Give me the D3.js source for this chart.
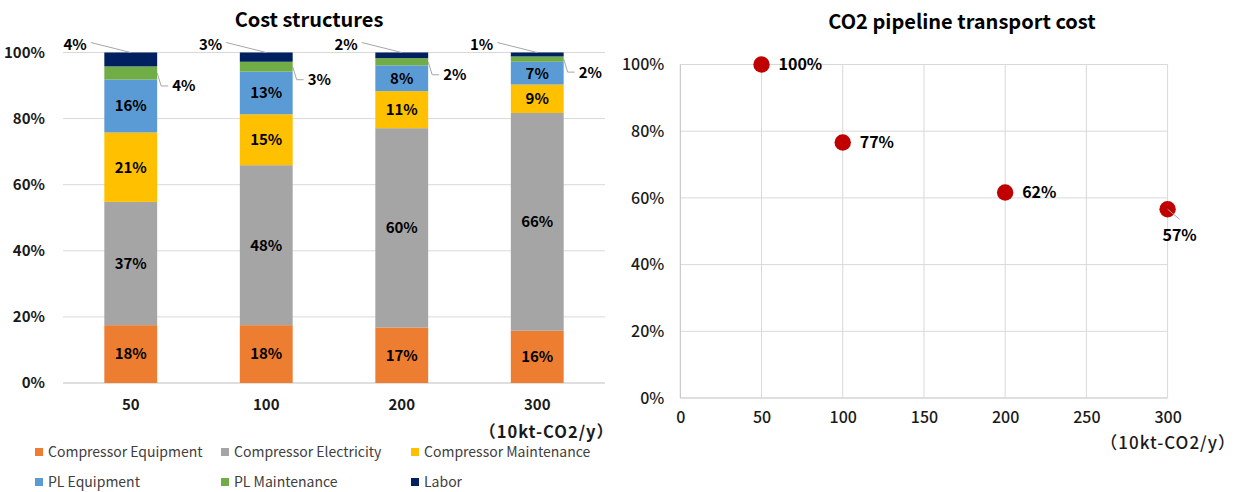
<!DOCTYPE html>
<html>
<head>
<meta charset="utf-8">
<script src="https://cdn.jsdelivr.net/npm/d3@7"></script>
<style>
  html, body { margin: 0; padding: 0; background: #ffffff; }
  svg { display: block; font-family: "Noto Sans CJK JP", "Noto Sans", sans-serif; }
</style>
</head>
<body>
<svg id="chart" width="1240" height="492"></svg>
<script>
// ---- Cost structure data (share of total cost, %) ----
const categories = ["50", "100", "200", "300"];
const seriesNames = ["Compressor Equipment", "Compressor Electricity", "Compressor Maintenance",
                     "PL Equipment", "PL Maintenance", "Labor"];
const seriesColors = ["#ED7D31", "#A5A5A5", "#FFC000", "#5B9BD5", "#70AD47", "#002060"];
const compressorEquipment   = [17.5, 17.5, 16.8, 15.8];
const compressorElectricity = [37.3, 48.4, 60.3, 65.9];
const compressorMaintenance = [21.0, 15.4, 11.2, 8.6];
const plEquipment           = [16.0, 12.9, 7.8, 6.9];
const plMaintenance         = [4.0, 3.0, 2.2, 1.6];
const labor                 = [4.2, 2.8, 1.7, 1.2];
const percentTicks = [0, 20, 40, 60, 80, 100];

// ---- Pipeline transport cost data (relative to 50 = 100%) ----
const capacity = [50, 100, 200, 300];
const relativeCost = [100, 76.6, 61.6, 56.6];
const capacityTicks = [0, 50, 100, 150, 200, 250, 300];

const unitLabel = "（10kt-CO2/y）";

const svg = d3.select("#chart");
const pct = v => Math.round(v) + "%";
const gridColor = "#d9d9d9";
const leader = "#a6a6a6";

// ================= Left: stacked bars =================
const seriesArrays = [compressorEquipment, compressorElectricity, compressorMaintenance,
                      plEquipment, plMaintenance, labor];
const rows = categories.map((c, i) => {
  const r = { category: c };
  seriesNames.forEach((s, k) => { r[s] = seriesArrays[k][i]; });
  return r;
});
const stacked = d3.stack().keys(seriesNames)(rows);

const xL = d3.scaleBand().domain(categories).range([63, 605]).paddingInner(0.61).paddingOuter(0.305);
const yL = d3.scaleLinear().domain([0, 100]).range([383, 52.5]);

const left = svg.append("g");

left.append("text")
  .attr("x", 309).attr("y", 27)
  .attr("text-anchor", "middle")
  .attr("font-size", 20).attr("font-weight", "bold").attr("fill", "#000")
  .text("Cost structures");

// horizontal gridlines
left.append("g").selectAll("line").data(percentTicks).join("line")
  .attr("x1", 63).attr("x2", 605)
  .attr("y1", d => yL(d)).attr("y2", d => yL(d))
  .attr("stroke", d => d === 0 ? "#bfbfbf" : gridColor).attr("stroke-width", 1);

// y axis labels
const yAxisL = left.append("g").attr("transform", "translate(63,0)")
  .call(d3.axisLeft(yL).tickValues(percentTicks).tickFormat(d => d + "%").tickSize(0).tickPadding(18));
yAxisL.select(".domain").remove();
yAxisL.selectAll("text").attr("font-size", 15).attr("font-weight", "bold").attr("fill", "#1a1a1a")
  .attr("font-family", "\"Noto Sans CJK JP\", sans-serif");

// x axis labels
const xAxisL = left.append("g").attr("transform", "translate(0,383)")
  .call(d3.axisBottom(xL).tickSize(0).tickPadding(16));
xAxisL.select(".domain").remove();
xAxisL.selectAll("text").attr("font-size", 15).attr("font-weight", "bold").attr("fill", "#1a1a1a")
  .attr("font-family", "\"Noto Sans CJK JP\", sans-serif");

left.append("text")
  .attr("x", 614).attr("y", 438)
  .attr("text-anchor", "end")
  .attr("font-size", 16.5).attr("letter-spacing", 1).attr("font-weight", "bold").attr("fill", "#1a1a1a")
  .text(unitLabel);

// bars
const layers = left.append("g").selectAll("g").data(stacked).join("g")
  .attr("fill", (d, i) => seriesColors[i]);
layers.selectAll("rect").data(d => d).join("rect")
  .attr("x", d => xL(d.data.category))
  .attr("width", xL.bandwidth())
  .attr("y", d => yL(d[1]))
  .attr("height", d => yL(d[0]) - yL(d[1]));

// labels inside the four lower segments
const insideLabels = left.append("g");
stacked.slice(0, 4).forEach(layer => {
  insideLabels.selectAll(null).data(layer).join("text")
    .attr("x", d => xL(d.data.category) + xL.bandwidth() / 2)
    .attr("y", d => (yL(d[0]) + yL(d[1])) / 2)
    .attr("dy", "0.36em")
    .attr("text-anchor", "middle")
    .attr("font-size", 15).attr("font-weight", "bold").attr("fill", "#000")
    .text(d => pct(d[1] - d[0]));
});

// PL Maintenance labels: to the right with a leader line
const plm = stacked[4];
const outside = left.append("g");
plm.forEach(d => {
  const xr = xL(d.data.category) + xL.bandwidth();
  const ym = (yL(d[0]) + yL(d[1])) / 2;
  const ly = ym + 13;
  outside.append("polyline")
    .attr("points", [[xr, ym], [xr + 4, ly], [xr + 11, ly]].map(p => p.join(",")).join(" "))
    .attr("fill", "none").attr("stroke", leader).attr("stroke-width", 1);
  outside.append("text")
    .attr("x", xr + 15).attr("y", ly).attr("dy", "0.36em")
    .attr("font-size", 15).attr("font-weight", "bold").attr("fill", "#000")
    .text(pct(d[1] - d[0]));
});

// Labor labels: top-left with a leader line to the bar top
const lab = stacked[5];
lab.forEach(d => {
  const xc = xL(d.data.category) + xL.bandwidth() / 2;
  const yt = yL(d[1]);
  const lx = xc - 40;
  const ly = yt - 8;
  outside.append("line")
    .attr("x1", xc).attr("y1", yt)
    .attr("x2", lx).attr("y2", ly - 2)
    .attr("stroke", leader).attr("stroke-width", 1);
  outside.append("text")
    .attr("x", lx - 4).attr("y", ly).attr("dy", "0.36em")
    .attr("text-anchor", "end")
    .attr("font-size", 15).attr("font-weight", "bold").attr("fill", "#000")
    .text(pct(d[1] - d[0]));
});

// legend
const legendCols = [35, 221, 411];
const legendRows = [452, 482];
const legend = left.append("g");
seriesNames.forEach((name, i) => {
  const lx = legendCols[i % 3];
  const ly = legendRows[Math.floor(i / 3)];
  legend.append("rect").attr("x", lx).attr("y", ly - 4).attr("width", 8).attr("height", 8)
    .attr("fill", seriesColors[i]);
  legend.append("text").attr("x", lx + 13).attr("y", ly).attr("dy", "0.36em")
    .attr("font-size", 14).attr("fill", "#404040").text(name);
});

// ================= Right: scatter =================
const xR = d3.scaleLinear().domain([0, 300]).range([680.3, 1167.6]);
const yR = d3.scaleLinear().domain([0, 100]).range([398, 64.5]);
const right = svg.append("g");

right.append("text")
  .attr("x", 962).attr("y", 29)
  .attr("text-anchor", "middle")
  .attr("font-size", 20).attr("font-weight", "bold").attr("fill", "#000")
  .text("CO2 pipeline transport cost");

right.append("g").selectAll("line").data(percentTicks).join("line")
  .attr("x1", xR(0)).attr("x2", xR(300))
  .attr("y1", d => yR(d)).attr("y2", d => yR(d))
  .attr("stroke", d => d === 0 ? "#bfbfbf" : gridColor);
right.append("g").selectAll("line").data(capacityTicks).join("line")
  .attr("x1", d => xR(d)).attr("x2", d => xR(d))
  .attr("y1", yR(0)).attr("y2", yR(100))
  .attr("stroke", d => d === 0 ? "#bfbfbf" : gridColor);

const yAxisR = right.append("g").attr("transform", `translate(${xR(0)},0)`)
  .call(d3.axisLeft(yR).tickValues(percentTicks).tickFormat(d => d + "%").tickSize(0).tickPadding(16));
yAxisR.select(".domain").remove();
yAxisR.selectAll("text").attr("font-size", 16).attr("font-weight", 500).attr("fill", "#1a1a1a")
  .attr("font-family", "\"Noto Sans CJK JP\", sans-serif");

const xAxisR = right.append("g").attr("transform", `translate(0,${yR(0)})`)
  .call(d3.axisBottom(xR).tickValues(capacityTicks).tickSize(0).tickPadding(14));
xAxisR.select(".domain").remove();
xAxisR.selectAll("text").attr("font-size", 16).attr("font-weight", 500).attr("fill", "#1a1a1a")
  .attr("font-family", "\"Noto Sans CJK JP\", sans-serif");

right.append("text")
  .attr("x", 1236).attr("y", 449)
  .attr("text-anchor", "end")
  .attr("font-size", 17).attr("letter-spacing", 1).attr("font-weight", 500).attr("fill", "#1a1a1a")
  .text(unitLabel);

const pts = capacity.map((c, i) => ({ c, v: relativeCost[i], last: i === capacity.length - 1 }));

right.append("g").selectAll("circle").data(pts).join("circle")
  .attr("cx", d => xR(d.c)).attr("cy", d => yR(d.v)).attr("r", 8.2)
  .attr("fill", "#C00000");

// leader for the last point's label
right.append("g").selectAll("line").data(pts.filter(p => p.last)).join("line")
  .attr("x1", d => xR(d.c)).attr("y1", d => yR(d.v))
  .attr("x2", d => xR(d.c) + 12).attr("y2", d => yR(d.v) + 10)
  .attr("stroke", leader).attr("stroke-width", 1);

right.append("g").selectAll("text").data(pts).join("text")
  .attr("x", d => d.last ? xR(d.c) + 12 : xR(d.c) + 17)
  .attr("y", d => d.last ? yR(d.v) + 26 : yR(d.v))
  .attr("dy", "0.36em")
  .attr("text-anchor", d => d.last ? "middle" : "start")
  .attr("font-size", 16).attr("font-weight", "bold").attr("fill", "#000")
  .text(d => pct(d.v));
</script>
</body>
</html>
